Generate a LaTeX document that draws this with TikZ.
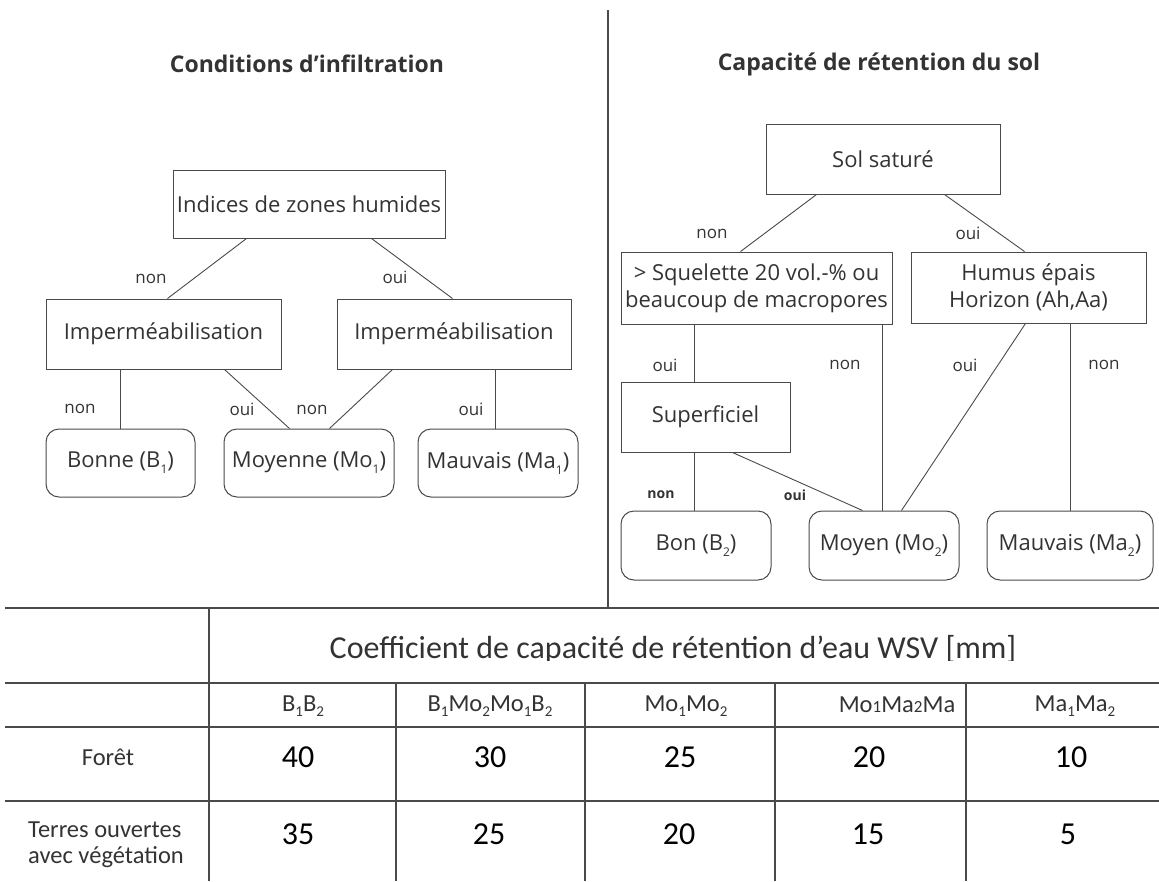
\documentclass[tikz,border=0pt]{standalone}
\usepackage{fontspec}
\usepackage{graphicx}
\usetikzlibrary{calc}
\setmainfont{Open Sans}
\newfontfamily\calib{Carlito}
\definecolor{lc}{HTML}{4A4A4A}
\definecolor{tc}{HTML}{333333}
\newcommand\dtext{\fontsize{22}{27}\selectfont}
\newcommand\ltext{\fontsize{17}{20}\selectfont}
\newcommand\sbs[1]{\raisebox{-0.5ex}{\fontsize{12}{12}\selectfont #1}}
\newcommand\tsb[1]{\raisebox{-0.45ex}{\fontsize{15}{15}\selectfont #1}}
\tikzset{
  box/.style={draw=lc, line width=1pt, inner sep=0pt, font=\dtext, text=tc, align=center},
  rbox/.style={box, rounded corners=13pt},
  lab/.style={font=\ltext, text=tc, inner sep=0pt},
  blab/.style={font=\fontsize{14}{16}\selectfont\bfseries, text=tc, inner sep=0pt},
  con/.style={draw=lc, line width=0.9pt},
  ttl/.style={font=\fontsize{23}{26}\selectfont\bfseries, text=tc, inner sep=0pt},
  tline/.style={draw=lc, line width=1.1pt},
  hdr/.style={font=\calib\fontsize{24.5}{26}\selectfont, text=tc, inner sep=0pt},
  num/.style={font=\calib\fontsize{32}{34}\selectfont, text=black, inner sep=0pt},
}
\begin{document}
\begin{tikzpicture}[x=1pt,y=-1pt]
\useasboundingbox (0,0) rectangle (1159,881);

% titles and dividers
\node[ttl] (t1) at (307,64) {Conditions d’infiltration};
\node[ttl] (t2) at (879,64) {Capacité de rétention du sol};
\coordinate (vtop) at (608,10);
\coordinate (vbot) at (608,608);
\draw[tline] (vtop) -- (vbot);

% left tree
\node[box, minimum width=272pt, minimum height=68pt] (ind) at (309,204) {Indices de zones humides};
\node[box, minimum width=235pt, minimum height=70pt] (impL) at (163.5,334) {Imperméabilisation};
\node[box, minimum width=234pt, minimum height=70pt] (impR) at (454,334) {Imperméabilisation};
\node[rbox, minimum width=149pt, minimum height=68pt] (bonne) at (120.5,463) {Bonne (B\sbs{1})};
\node[rbox, minimum width=170pt, minimum height=68pt] (moy) at (309,463) {Moyenne (Mo\sbs{1})};
\node[rbox, minimum width=160pt, minimum height=68pt] (mauv) at (498,463) {Mauvais (Ma\sbs{1})};

\draw[con] ($(ind.south west)+(74,0)$) -- ($(impL.north west)+(122,0)$);
\draw[con] ($(ind.south west)+(199,0)$) -- ($(impR.north west)+(116,0)$);
\draw[con] ($(impL.south west)+(75,0)$) -- ($(bonne.north west)+(75,0)$);
\draw[con] ($(impL.south west)+(179,0)$) -- ($(moy.north west)+(66,0)$);
\draw[con] ($(impR.south west)+(56,0)$) -- ($(moy.north west)+(106,0)$);
\draw[con] ($(impR.south west)+(159,0)$) -- ($(mauv.north west)+(78,0)$);

\node[lab] (l1) at (151,279) {non};
\node[lab] (l2) at (395,277) {oui};
\node[lab] (l3) at (80,409) {non};
\node[lab] (l4) at (242,409) {oui};
\node[lab] (l5) at (312,410) {non};
\node[lab] (l6) at (471,409) {oui};

% right tree
\node[box, minimum width=234pt, minimum height=70pt] (sol) at (883,159) {Sol saturé};
\node[box, minimum width=271pt, minimum height=72pt] (sq) at (756.5,288) {> Squelette 20 vol.-\% ou\\beaucoup de macropores};
\node[box, minimum width=235pt, minimum height=71pt] (hum) at (1028.5,287.5) {Humus épais\\Horizon (Ah,Aa)};
\node[box, minimum width=169pt, minimum height=70pt] (sup) at (705.5,417) {Superficiel};
\node[rbox, minimum width=150pt, minimum height=69pt] (bon) at (696,545.5) {Bon (B\sbs{2})};
\node[rbox, minimum width=150pt, minimum height=69pt] (moyen) at (884,545.5) {Moyen (Mo\sbs{2})};
\node[rbox, minimum width=166pt, minimum height=69pt] (mauv2) at (1070,545.5) {Mauvais (Ma\sbs{2})};

\draw[con] ($(sol.south west)+(51,0)$) -- ($(sq.north west)+(120,0)$);
\draw[con] ($(sol.south west)+(179,0)$) -- ($(hum.north west)+(114,0)$);
\draw[con] ($(sq.south west)+(74,0)$) -- ($(sup.north west)+(74,0)$);
\draw[con] ($(sq.south west)+(262,0)$) -- ($(moyen.north west)+(74,0)$);
\draw[con] ($(hum.south west)+(115,0)$) -- ($(moyen.north west)+(93,0)$);
\draw[con] ($(hum.south west)+(160,0)$) -- ($(mauv2.north west)+(84,0)$);
\draw[con] ($(sup.south west)+(74,0)$) -- ($(bon.north west)+(74,0)$);
\draw[con] ($(sup.south west)+(112,0)$) -- ($(moyen.north west)+(54,0)$);

\node[lab] (r1) at (712,234) {non};
\node[lab] (r2) at (968,233) {oui};
\node[lab] (r3) at (665,365) {oui};
\node[lab] (r4) at (845,365) {non};
\node[lab] (r5) at (965,365) {oui};
\node[lab] (r6) at (1104,365) {non};
\node[blab] (r7) at (661,495) {non};
\node[blab] (r8) at (795,495) {oui};

% table
\draw[tline] (5,608) -- (1159,608);
\draw[tline] (5,683) -- (1159,683);
\draw[tline] (5,727) -- (1159,727);
\draw[tline] (5,801) -- (1159,801);
\draw[tline] (209,608) -- (209,881);
\foreach \x in {396,585,775,966} \draw[tline] (\x,683) -- (\x,881);

\begin{scope}
\clip (210,609) rectangle (1159,660);
\node[font=\calib\fontsize{32}{34}\selectfont, text=tc, inner sep=0pt, anchor=base] (hd) at (673,658) {Coefficient de capacité de rétention d’eau WSV [mm]};
\end{scope}

\node[hdr] (c1) at (303,706) {B\tsb{1}B\tsb{2}};
\node[hdr] (c2) at (490,706) {B\tsb{1}Mo\tsb{2}Mo\tsb{1}B\tsb{2}};
\node[hdr] (c3) at (686,706) {Mo\tsb{1}Mo\tsb{2}};
\node[hdr] (c4) at (897,705) {Mo{\fontsize{17}{17}\selectfont 1}Ma{\fontsize{17}{17}\selectfont 2}Ma};
\node[hdr] (c5) at (1075,706) {Ma\tsb{1}Ma\tsb{2}};

\node[hdr] (rw1) at (108,757) {Forêt};
\node[hdr, align=left, font=\calib\fontsize{24.5}{26}\selectfont] (rw2) at (106,845) {Terres ouvertes\\avec végétation};

\node[num] (n11) at (298,757) {40};
\node[num] (n12) at (490,757) {30};
\node[num] (n13) at (680,757) {25};
\node[num] (n14) at (869,757) {20};
\node[num] (n15) at (1071,757) {10};
\node[num] (n21) at (298,834) {35};
\node[num] (n22) at (489,834) {25};
\node[num] (n23) at (679,834) {20};
\node[num] (n24) at (868,834) {15};
\node[num] (n25) at (1068,834) {5};
\end{tikzpicture}
\end{document}
